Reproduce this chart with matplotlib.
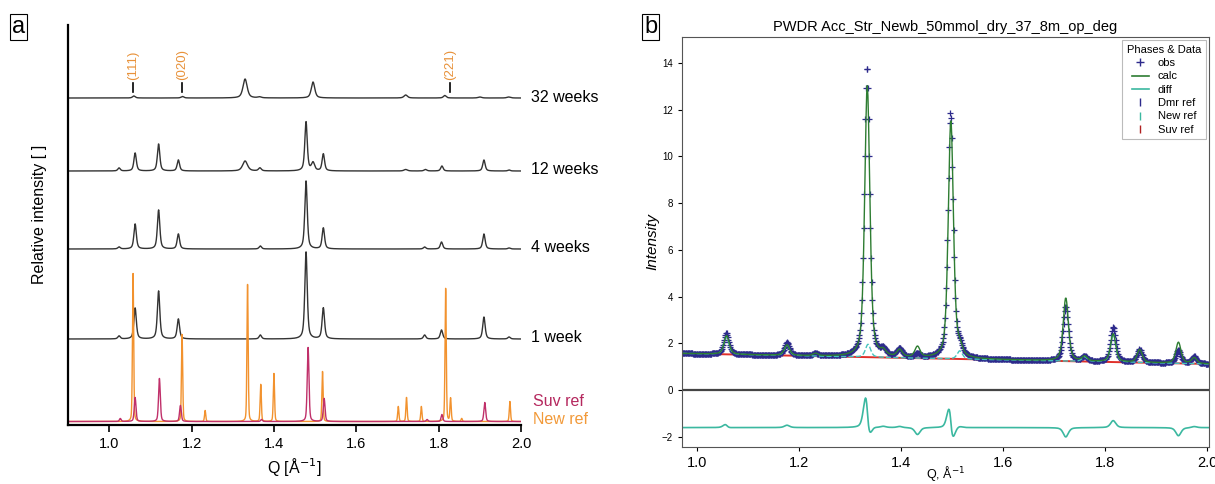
import numpy as np
import matplotlib.pyplot as plt

plt.rcParams['font.family'] = ['Liberation Sans', 'DejaVu Sans']

# ---------------- panel a : stacked diffraction patterns ----------------
# peak positions (Q, 1/A) and heights (arbitrary units)
week1_q = [1.024, 1.063, 1.120, 1.168, 1.367, 1.478, 1.520, 1.766, 1.807, 1.910, 1.971]
week1_h = [3, 31, 48, 20, 4, 87, 31, 4, 9, 22, 2]

week4_q = [1.024, 1.063, 1.120, 1.168, 1.367, 1.478, 1.520, 1.766, 1.807, 1.910, 1.971]
week4_h = [2, 25, 39, 15, 3, 68, 21, 2, 7, 15, 1]

week12_q = [1.024, 1.063, 1.120, 1.168, 1.330, 1.366, 1.478, 1.495, 1.520, 1.720, 1.768, 1.808, 1.910, 1.971]
week12_h = [3, 18, 27, 11, 10, 3, 49, 8, 17, 1.5, 1.5, 5, 11, 1]
week12_w = [0.007, 0.007, 0.007, 0.007, 0.014, 0.008, 0.007, 0.009, 0.007, 0.01, 0.008, 0.007, 0.007, 0.007]

week32_q = [1.060, 1.178, 1.330, 1.365, 1.495, 1.720, 1.815, 1.900, 1.970]
week32_h = [2, 1.5, 19, 1, 16, 3, 2.5, 1, 1]
week32_w = [0.008, 0.008, 0.012, 0.01, 0.01, 0.01, 0.008, 0.01, 0.01]

newref_q = [1.058, 1.177, 1.233, 1.336, 1.368, 1.400, 1.518, 1.702, 1.722, 1.758, 1.817, 1.829, 1.856, 1.973]
newref_h = [148, 87, 11, 137, 37, 48, 50, 15, 24, 15, 133, 23, 3, 20]

suvref_q = [1.027, 1.063, 1.122, 1.173, 1.370, 1.483, 1.522, 1.772, 1.808, 1.912]
suvref_h = [3, 24, 43, 16, 2, 74, 23, 2, 7, 19]

hkl_labels = ['(111)', '(020)', '(221)']
hkl_q = [1.058, 1.178, 1.828]

# ---------------- panel b : Rietveld fit ----------------
obs_q = [1.057, 1.176, 1.232, 1.333, 1.365, 1.397, 1.432, 1.497, 1.515, 1.723, 1.760, 1.816, 1.868, 1.944, 1.975]
obs_h = [0.9, 0.55, 0.1, 12.4, 0.25, 0.35, 0.15, 10.5, 0.4, 2.3, 0.2, 1.5, 0.55, 0.55, 0.3]
calc_q = [1.0575, 1.176, 1.232, 1.3335, 1.365, 1.397, 1.432, 1.4975, 1.515, 1.723, 1.760, 1.816, 1.868, 1.944, 1.975]
calc_h = [0.8, 0.45, 0.1, 11.6, 0.2, 0.3, 0.45, 10.2, 0.35, 2.7, 0.2, 1.2, 0.55, 0.9, 0.25]
phase_q = [1.057, 1.176, 1.335, 1.515, 1.760, 1.816]
phase_h = [0.75, 0.45, 0.55, 0.35, 0.2, 1.2]
bg_q = [0.97, 2.004]
bg_val = [1.57, 1.12]
diff_offset = -1.6


def pattern(q, pos, height, fwhm, eta=0.6):
    """pseudo-Voigt sum of peaks"""
    if np.isscalar(fwhm):
        fwhm = [fwhm] * len(pos)
    y = np.zeros_like(q)
    for p, h, w in zip(pos, height, fwhm):
        g = np.exp(-4 * np.log(2) * ((q - p) / w) ** 2)
        l = 1 / (1 + 4 * ((q - p) / w) ** 2)
        y += h * (eta * l + (1 - eta) * g)
    return y


fig = plt.figure(figsize=(12.15, 4.84), dpi=100)

# ---- panel a
ax = fig.add_axes([68 / 1215, 1 - 425 / 484, 453 / 1215, 400 / 484])
q = np.linspace(0.9, 2.0, 3301)

traces = [
    (week32_q, week32_h, week32_w, 327, '32 weeks'),
    (week12_q, week12_h, week12_w, 254, '12 weeks'),
    (week4_q, week4_h, 0.007, 176, '4 weeks'),
    (week1_q, week1_h, 0.007, 86, '1 week'),
]
for pos, h, w, off, lab in traces:
    ax.plot(q, off + pattern(q, pos, h, w), color='#333333', lw=1.0)
    ax.text(2.025, off + 1, lab, fontsize=11.5, va='center', ha='left')

ax.plot(q, 3.5 + pattern(q, newref_q, newref_h, 0.0035, eta=0.3), color='#f2922e', lw=1.0)
ax.plot(q, 3.5 + pattern(q, suvref_q, suvref_h, 0.005, eta=0.4), color='#c0306a', lw=1.0)
ax.text(2.028, 24, 'Suv ref', fontsize=11.5, va='center', color='#b5285e')
ax.text(2.028, 5, 'New ref', fontsize=11.5, va='center', color='#f29a3a')

for lab, hq in zip(hkl_labels, hkl_q):
    ax.plot([hq, hq], [333, 342], color='black', lw=1.2)
    ax.text(hq, 345, lab, rotation=90, ha='center', va='bottom', fontsize=9.5, color='#e8923a')

ax.set_xlim(0.9, 2.0)
ax.set_ylim(0, 400)
ax.set_yticks([])
ax.set_xticks([1.0, 1.2, 1.4, 1.6, 1.8, 2.0])
ax.tick_params(axis='x', labelsize=10.5, length=5, width=1.2)
for s in ['top', 'right']:
    ax.spines[s].set_visible(False)
for s in ['left', 'bottom']:
    ax.spines[s].set_linewidth(1.6)
ax.set_xlabel('Q [Å$^{-1}$]', fontsize=11.5, labelpad=4)
ax.set_ylabel('Relative intensity [ ]', fontsize=11.5)
ax.yaxis.set_label_coords(-0.046, 0.527)

# ---- panel b
bx = fig.add_axes([682 / 1215, 1 - 447 / 484, 527 / 1215, 410 / 484])
qb = np.arange(0.97, 2.004, 0.0012)
bg = np.interp(qb, bg_q, bg_val)
obs = bg + pattern(qb, obs_q, obs_h, 0.012, eta=0.5)
calc = bg + pattern(qb, calc_q, calc_h, 0.012, eta=0.5)
part = bg + pattern(qb, phase_q, phase_h, 0.012, eta=0.5)
diff = obs - calc + diff_offset

bx.axhline(0, color='#444444', lw=1.6)
bx.plot(qb, bg, color='#e0302a', lw=1.4)
bx.plot(qb, obs, ls='none', marker='+', ms=5, mew=0.9, color='#2d2a8c')
bx.plot(qb, part, color='#45c4bc', lw=1.0, ls='--')
bx.plot(qb, calc, color='#2e7d32', lw=1.0)
bx.plot(qb, diff, color='#3bb8a0', lw=1.2)

bx.set_xlim(0.97, 2.004)
bx.set_ylim(-2.43, 15.1)
bx.set_yticks(range(-2, 15, 2))
bx.set_xticks([1.0, 1.2, 1.4, 1.6, 1.8, 2.0])
bx.tick_params(axis='y', labelsize=7, length=3)
bx.tick_params(axis='x', labelsize=10.5, length=3)
for s in bx.spines.values():
    s.set_color('#555555')
bx.set_title('PWDR Acc_Str_Newb_50mmol_dry_37_8m_op_deg', fontsize=10.5, pad=4)
bx.set_ylabel('Intensity', fontsize=11, style='italic', labelpad=2)
bx.set_xlabel('Q, Å$^{-1}$', fontsize=9, labelpad=-4)

handles = [
    plt.Line2D([], [], ls='none', marker='+', color='#2d2a8c', ms=6),
    plt.Line2D([], [], color='#2e7d32', lw=1.2),
    plt.Line2D([], [], color='#3bb8a0', lw=1.2),
    plt.Line2D([], [], ls='none', marker='|', color='#2d2a8c', ms=6),
    plt.Line2D([], [], ls='none', marker='|', color='#3bb8a0', ms=6),
    plt.Line2D([], [], ls='none', marker='|', color='#b02020', ms=6),
]
leg = bx.legend(handles, ['obs', 'calc', 'diff', 'Dmr ref', 'New ref', 'Suv ref'],
                title='Phases & Data', loc='upper right', fontsize=8, title_fontsize=8,
                fancybox=False, edgecolor='#aaaaaa', handlelength=1.5, labelspacing=0.3,
                borderaxespad=0.3, borderpad=0.4)
leg.get_frame().set_linewidth(0.8)

# panel letters
for x, letter in [(12 / 1215, 'a'), (644 / 1215, 'b')]:
    fig.text(x, 1 - 27 / 484, letter, fontsize=17, va='center', ha='left',
             bbox=dict(boxstyle='square,pad=0.1', fc='white', ec='black', lw=0.8))

fig.savefig('out.png', dpi=100)
